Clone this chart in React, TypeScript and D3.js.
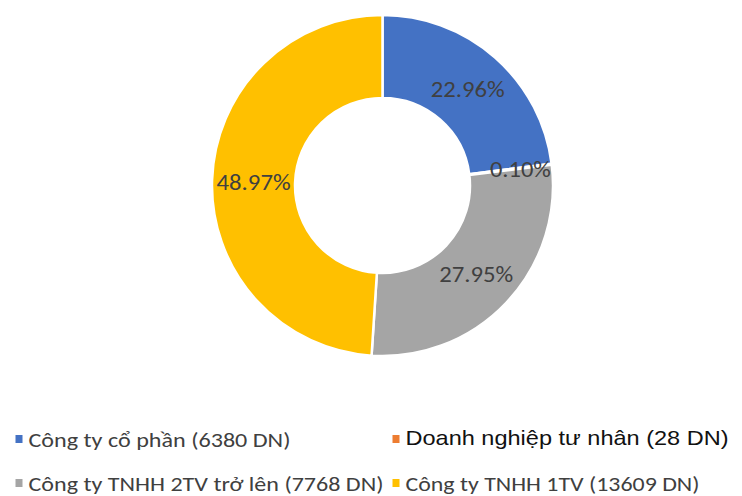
import { useEffect } from 'react';
import * as d3 from 'd3';

// categories, company counts and the percentage shown on each slice
const categories = [
  'Công ty cổ phần (6380 DN)',
  'Doanh nghiệp tư nhân (28 DN)',
  'Công ty TNHH 2TV trở lên (7768 DN)',
  'Công ty TNHH 1TV (13609 DN)',
];
const counts = [6380, 28, 7768, 13609];
const shares = [22.96, 0.1, 27.95, 48.97];
const colors = ['#4472C4', '#ED7D31', '#A5A5A5', '#FFC000'];

const W = 742;
const H = 496;
const cx = 382.5;
const cy = 185.5;
const outerR = 170.5;
const innerR = 87.5;

// legend text widths (Calibri not installed)
const legendWidths = [262, 323, 355, 294];

type Slice = d3.PieArcDatum<number>;

export default function App() {
  useEffect(() => {
    document.body.style.margin = '0';
  }, []);

  const pie = d3.pie<number>().sort(null).value(d => d);
  const slices: Slice[] = pie(shares);
  const arc = d3.arc<Slice>().innerRadius(innerR).outerRadius(outerR);
  const smallLabelArc = d3.arc<Slice>().innerRadius(139).outerRadius(139);
  const fmt = (v: number) => `${d3.format('.2f')(v)}%`;

  // legend grid: two columns, two rows
  const colX = d3.scaleOrdinal<number, number>().domain([0, 1]).range([15.5, 392.5]);
  const rowY = d3.scaleOrdinal<number, number>().domain([0, 1]).range([447, 491]);

  return (
    <svg width={W} height={H} style={{ display: 'block', background: '#fff' }}>
      <g transform={`translate(${cx},${cy})`}>
        {slices.map((s, i) => (
          <path key={i} d={arc(s) || ''} fill={colors[i]} stroke="#fff" strokeWidth={2.5} strokeLinejoin="round" />
        ))}
        {slices.map((s, i) => {
          const small = s.value < 1;
          const [x, y] = small ? smallLabelArc.centroid(s) : arc.centroid(s);
          return (
            <text
              key={i}
              x={x}
              y={y}
              dy="0.36em"
              textAnchor="middle"
              fill="#404040"
              fontFamily="Carlito, Lato, 'Open Sans', sans-serif"
              fontSize={23}
              textLength={small ? 61 : 74}
              lengthAdjust="spacingAndGlyphs"
            >
              {fmt(s.value)}
            </text>
          );
        })}
      </g>
      <g>
        {categories.map((c, i) => {
          const col = i % 2;
          const row = Math.floor(i / 2);
          const x = colX(col);
          const y = rowY(row);
          const arial = i === 1;
          return (
            <g key={c} data-count={counts[i]}>
              <rect x={x} y={y - 12} width={7} height={8} fill={colors[i]} />
              <text
                x={x + 13}
                y={arial ? y - 2 : y}
                fill={arial ? '#111' : '#404040'}
                fontFamily={arial ? "'Liberation Sans', Arial, sans-serif" : "Carlito, Lato, 'Open Sans', sans-serif"}
                fontSize={21}
                textLength={legendWidths[i]}
                lengthAdjust="spacingAndGlyphs"
              >
                {c}
              </text>
            </g>
          );
        })}
      </g>
    </svg>
  );
}
